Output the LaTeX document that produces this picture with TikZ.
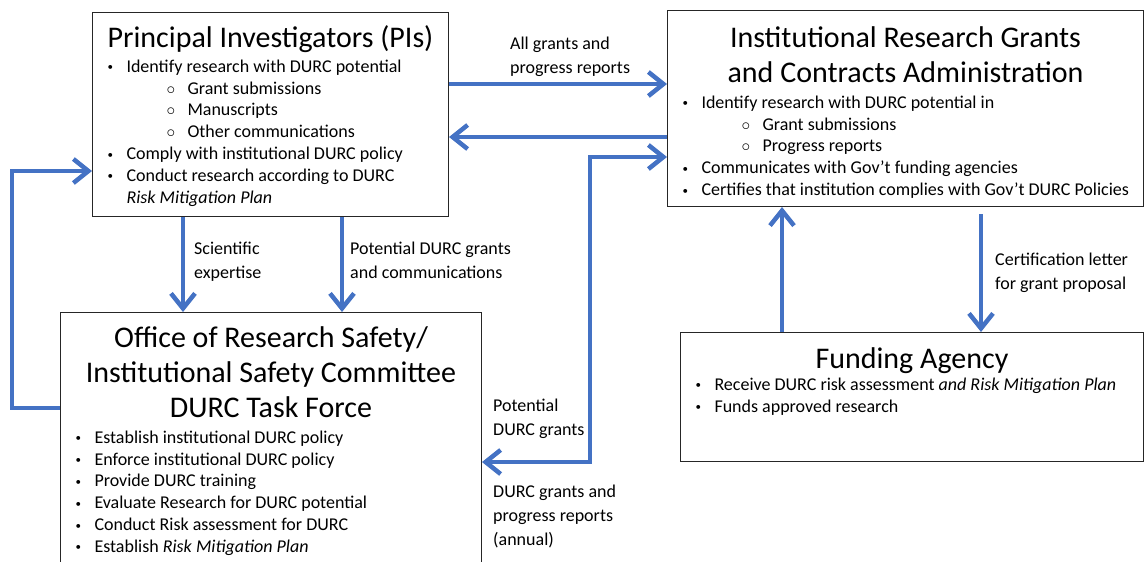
\documentclass[tikz,border=0pt]{standalone}
\usepackage{fontspec}
\setmainfont{Carlito}
\usetikzlibrary{arrows.meta,positioning}

\definecolor{flowblue}{HTML}{4472C4}

\newcommand{\titlefont}{\fontsize{30}{35}\selectfont}
\newcommand{\bodyfont}{\fontsize{18}{21.8}\selectfont}
\newcommand{\dotmark}{\raisebox{1.5pt}{\fontsize{11}{11}\selectfont\textbullet}}
\newcommand{\ringmark}{{\fontsize{16}{16}\selectfont$\circ$}}
\newcommand{\bul}[1]{\par\noindent\hangindent=34pt\hangafter=1%
    \hspace*{15pt}\makebox[19pt][l]{\dotmark}#1}
\newcommand{\subbul}[1]{\par\noindent%
    \hspace*{74pt}\makebox[21pt][l]{\ringmark}#1}

\begin{document}
\begin{tikzpicture}[
        x=1pt, y=-1pt,
        unit/.style={
            draw=black!85,
            line width=1pt,
            inner sep=0pt,
            anchor=north west
        },
        flow/.style={
            draw=flowblue,
            line width=4.5pt,
            -{Straight Barb[length=15pt,width=24pt]}
        },
        twoway/.style={
            flow,
            {Straight Barb[length=15pt,width=24pt]}-{Straight Barb[length=15pt,width=24pt]}
        },
        note/.style={
            font=\fontsize{18}{24}\selectfont,
            align=left,
            inner sep=0pt,
            anchor=base west
        }
    ]

        \useasboundingbox (0,0) rectangle (1146,562);

        \node[unit] (pi) at (92,12)
            {\parbox[t][204pt][t]{356pt}{%
             {\titlefont\centering\rule{0pt}{35pt}Principal Investigators (PIs)\par}
             \bodyfont\raggedright\vspace{3pt}
             \bul{Identify research with DURC potential}
             \subbul{Grant submissions}
             \subbul{Manuscripts}
             \subbul{Other communications}
             \bul{Comply with institutional DURC policy}
             \bul{Conduct research according to DURC\newline
                  \textit{Risk Mitigation Plan}}}};

        \node[unit] (grants) at (667,10)
            {\parbox[t][196pt][t]{476pt}{%
             {\titlefont\centering\rule{0pt}{37pt}Institutional Research Grants\\
              and Contracts Administration\par}
             \bodyfont\raggedright\vspace{4pt}
             \bul{Identify research with DURC potential in}
             \subbul{Grant submissions}
             \subbul{Progress reports}
             \bul{Communicates with Gov't funding agencies}
             \bul{Certifies that institution complies with Gov't DURC Policies}}};

        \node[unit] (safety) at (60,312)
            {\parbox[t][258pt][t]{421pt}{%
             {\titlefont\centering\rule{0pt}{35pt}Office of Research Safety/\\
              Institutional Safety Committee\\
              DURC Task Force\par}
             \bodyfont\raggedright\vspace{4pt}
             \bul{Establish institutional DURC policy}
             \bul{Enforce institutional DURC policy}
             \bul{Provide DURC training}
             \bul{Evaluate Research for DURC potential}
             \bul{Conduct Risk assessment for DURC}
             \bul{Establish \textit{Risk Mitigation Plan}}}};

        \node[unit] (agency) at (680,332)
            {\parbox[t][129pt][t]{463pt}{%
             {\titlefont\centering\rule{0pt}{36pt}Funding Agency\par}
             \bodyfont\raggedright\vspace{0pt}
             \bul{Receive DURC risk assessment \textit{and Risk Mitigation Plan}}
             \bul{Funds approved research}}};

        % arrow labels (placed by the baseline of their last line)
        \node[note] (lblsubmit) at (510,73)
            {All grants and\\progress reports};
        \node[note] (lblexpert) at (194,278)
            {Scientific\\expertise};
        \node[note] (lblpotential) at (350,278)
            {Potential DURC grants\\and communications};
        \node[note] (lblcert) at (995,289)
            {Certification letter\\for grant proposal};
        \node[note] (lblpotgrants) at (493,435)
            {Potential\\DURC grants};
        \node[note] (lblannual) at (493,545)
            {DURC grants and\\progress reports\\(annual)};

        % connectors
        \coordinate (a1) at ([yshift=-72pt]pi.north east);
        \coordinate (b1) at ([yshift=-127pt]grants.north west);
        \coordinate (c1) at ([yshift=-150pt]safety.north east);
        \coordinate (c2) at ([yshift=-147pt]grants.north west);
        \coordinate (d1) at ([xshift=91pt]pi.south west);
        \coordinate (d2) at ([xshift=250pt]pi.south west);
        \coordinate (e1) at ([yshift=-96pt]safety.north west);
        \coordinate (f1) at ([yshift=-159pt]pi.north west);
        \coordinate (g1) at ([xshift=102pt]agency.north west);
        \coordinate (h1) at ([xshift=314pt,yshift=-7pt]grants.south west);

        \draw[flow] (a1) -- (a1 -| grants.west);
        \draw[flow] (b1) -- (b1 -| pi.east);
        \draw[twoway] (c1) -- ++(108,0) |- (c2);
        \draw[flow] (d1) -- (d1 |- safety.north);
        \draw[flow] (d2) -- (d2 |- safety.north);
        \draw[flow] (e1) -- ++(-48,0) |- (f1);
        \draw[flow] (g1) -- (g1 |- grants.south);
        \draw[flow] (h1) -- (h1 |- agency.north);

    \end{tikzpicture}
\end{document}
